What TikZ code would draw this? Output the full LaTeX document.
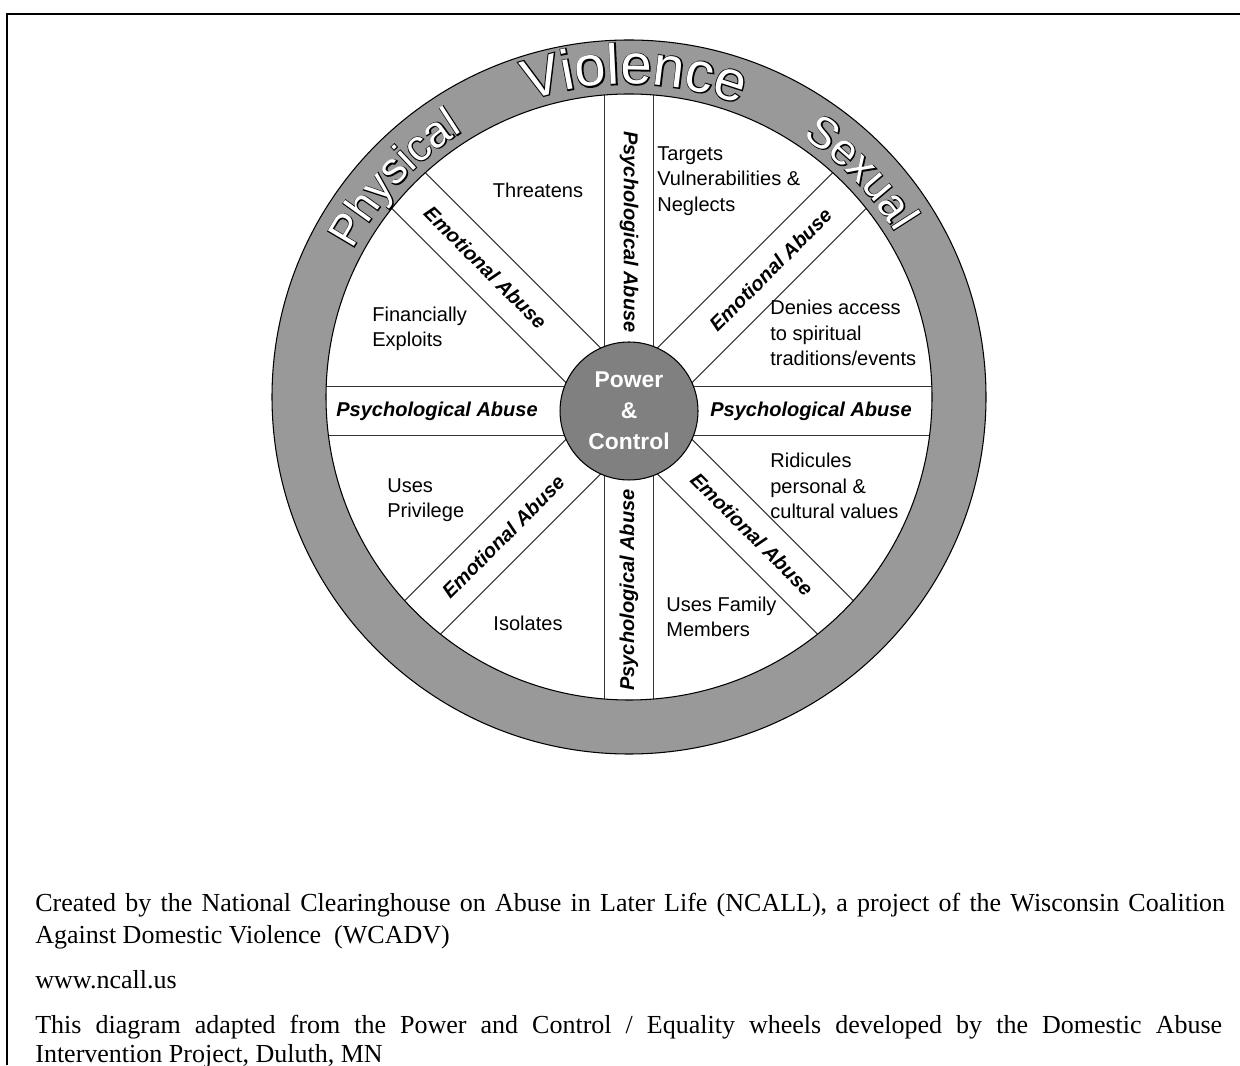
\documentclass[tikz,border=0pt]{standalone}
\usepackage{fontspec}
\setsansfont{Liberation Sans}
\newfontfamily\notefont{Liberation Serif}
\newfontfamily\rimedge[FakeBold=4]{Liberation Sans}
\usetikzlibrary{calc,decorations.text}

\tikzset{
  lbl/.style={font=\sffamily\fontsize{11.4}{14.4}\selectfont, align=left, inner sep=0pt},
  abuse/.style={font=\sffamily\bfseries\itshape\fontsize{11.4}{14}\selectfont, inner sep=0pt},
  spoke/.style={draw=black!80, line width=0.6pt},
  note/.style={font=\notefont\fontsize{14.8}{18}\selectfont, anchor=base west, inner sep=0pt},
  hub/.style={circle, draw, line width=0.6pt, fill=black!50, text=white, minimum size=2.76cm, align=center, font=\sffamily\bfseries\fontsize{13}{17.6}\selectfont},
}

% word written round the rim, white with a black edge
\newcommand\rimword[3]{%
  \path[decorate, decoration={text along path, text align=center, text color=black,
    text={|\rimedge\fontsize{#2}{#2}\selectfont|#3}}] (#1+40:313) arc[start angle=#1+40, end angle=#1-40, radius=313];
  \path[decorate, decoration={text along path, text align=center, text color=white,
    text={|\sffamily\fontsize{#2}{#2}\selectfont|#3}}] (#1+40:313) arc[start angle=#1+40, end angle=#1-40, radius=313];
}

\begin{document}
\begin{tikzpicture}[x=0.02cm, y=0.02cm]
\useasboundingbox (0,0) rectangle (1240,1065);
\draw[line width=1.4pt] (7,0) -- (7,1051) -- (1240,1051);

% spokes
\begin{scope}
  \clip (629,668) circle[radius=303];
  \foreach \a in {0,45,90,135}
    \foreach \s in {-24.5,24.5}
      \draw[spoke, shift={(629,654)}, rotate=\a] (-400,\s) -- (400,\s);
\end{scope}

% rim
\draw[fill=black!40, even odd rule, line width=0.6pt] (629,668) circle[radius=357] circle[radius=303];

\node[hub] (hub) at (629,654) {Power\\\&\\Control};

\node[abuse, rotate=-90] (psy-n) at ($(hub)+(90:179)$) {Psychological Abuse};
\node[abuse, rotate=90] (psy-s) at ($(hub)+(270:179)$) {Psychological Abuse};
\node[abuse] (psy-w) at ($(hub)+(180:192)$) {Psychological Abuse};
\node[abuse] (psy-e) at ($(hub)+(0:182)$) {Psychological Abuse};
\node[abuse, rotate=-45] (emo-nw) at ($(hub)+(135:203)$) {Emotional Abuse};
\node[abuse, rotate=45] (emo-ne) at ($(hub)+(45:200)$) {Emotional Abuse};
\node[abuse, rotate=45] (emo-sw) at ($(hub)+(225:178)$) {Emotional Abuse};
\node[abuse, rotate=-45] (emo-se) at ($(hub)+(315:174)$) {Emotional Abuse};

\node[lbl] (threat) at (538,875) {Threatens};
\node[lbl, anchor=west] (target) at (657,884) {Targets\\Vulnerabilities \&\\Neglects};
\node[lbl, anchor=west] (money) at (372,736) {Financially\\Exploits};
\node[lbl, anchor=west] (faith) at (770,732) {Denies access\\to spiritual\\traditions/events};
\node[lbl, anchor=west] (priv) at (387,565) {Uses\\Privilege};
\node[lbl, anchor=west] (values) at (770,579) {Ridicules\\personal \&\\cultural values};
\node[lbl] (isol) at (528,442) {Isolates};
\node[lbl, anchor=west] (family) at (666,448) {Uses Family\\Members};

\begin{scope}[shift={(629,668)}]
  \rimword{89}{32}{Violence}
  \rimword{137}{25}{Physical}
  \rimword{44}{25}{Sexual}
\end{scope}

\node[note] (made) at (35,154) {\makebox[23.8cm][s]{Created by the National Clearinghouse on Abuse in Later Life (NCALL), a project of the Wisconsin Coalition}};
\node[note] (made2) at (35,122) {Against Domestic Violence\ \ (WCADV)};
\node[note] (web) at (35,77) {www.ncall.us};
\node[note] (adapt) at (35,32) {\makebox[23.74cm][s]{This diagram adapted from the Power and Control / Equality wheels developed by the Domestic Abuse}};
\node[note] (adapt2) at (35,3) {Intervention Project, Duluth, MN};
\end{tikzpicture}
\end{document}
